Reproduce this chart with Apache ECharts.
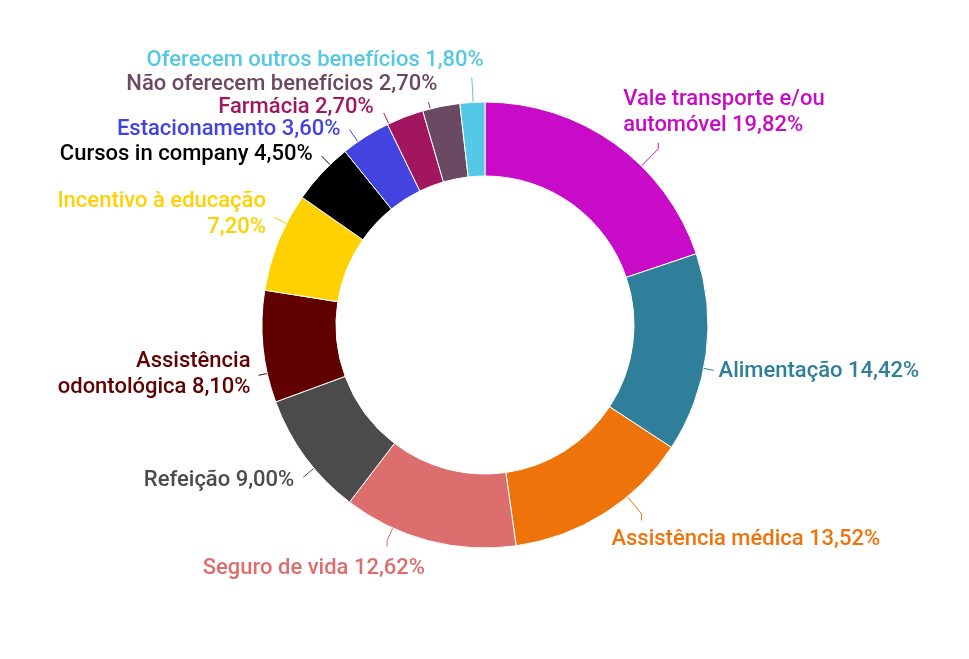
<!DOCTYPE html>
<html>
<head>
<meta charset="utf-8">
<script src="https://cdn.jsdelivr.net/npm/echarts@6/dist/echarts.min.js"></script>
<style>
html,body{margin:0;padding:0;background:#fff;}
#chart{width:969px;height:659px;}
</style>
</head>
<body>
<div id="chart"></div>
<script>
const categories = [
  'Vale transporte e/ou\nautomóvel',
  'Alimentação',
  'Assistência médica',
  'Seguro de vida',
  'Refeição',
  'Assistência\nodontológica',
  'Incentivo à educação\n',
  'Cursos in company',
  'Estacionamento',
  'Farmácia',
  'Não oferecem benefícios',
  'Oferecem outros benefícios'
];
const values = [19.82, 14.42, 13.52, 12.62, 9.00, 8.10, 7.20, 4.50, 3.60, 2.70, 2.70, 1.80];
const colors = ['#C70BC7', '#2F7E9A', '#EE730A', '#DD6E6E', '#4B4B4B', '#600000', '#FFD100', '#000000', '#4343E0', '#A2165F', '#6A4A62', '#55C8E6'];

// Label placement styling: f = where along the slice arc the leader starts (0..1),
// len = radial leader length, ex/ey = extra leader segment, dx/dy = text offset from leader end.
const labelPlacement = [
  { f: 0.624, len: 24, ex: 0, ey: -6, dx: -35, dy: -30, align: 'left' },
  { f: 0.575, len: 10, ex: 0, ey: 0, dx: 5, dy: 1, align: 'left' },
  { f: 0.35, len: 22, ex: 0, ey: 7, dx: -30, dy: 19, align: 'left' },
  { f: 0.714, len: 14, ex: 0, ey: 6, dx: 38, dy: 22, align: 'right' },
  { f: 0.39, len: 14, ex: 0, ey: 0, dx: -9, dy: 3, align: 'right' },
  { f: 0.262, len: 9, ex: 0, ey: 0, dx: -8, dy: -1, align: 'right' },
  { f: 0.697, len: 14, ex: 0, ey: 0, dx: -8, dy: -3, align: 'right' },
  { f: 0.682, len: 12, ex: 0, ey: 0, dx: -9, dy: -2, align: 'right' },
  { f: 0.32, len: 15, ex: 0, ey: 0, dx: -9, dy: 0, align: 'right' },
  { f: 0.04, len: 12, ex: 0, ey: 0, dx: -10, dy: -5, align: 'right' },
  { f: 0.203, len: 7, ex: 0, ey: 0, dx: 9, dy: -18, align: 'right' },
  { f: 0.53, len: 25, ex: 0, ey: 0, dx: 12, dy: -17, align: 'right' }
];

const fmt = v => v.toFixed(2).replace('.', ',') + '%';

const chart = echarts.init(document.getElementById('chart'));

function labelLayout(params) {
  const i = params.dataIndex;
  const pl = labelPlacement[i];
  const lay = chart.getModel().getSeriesByIndex(0).getData().getItemLayout(i);
  if (!lay || !pl) return {};
  const a = lay.startAngle + pl.f * (lay.endAngle - lay.startAngle);
  const c = Math.cos(a), s = Math.sin(a);
  const p0 = [lay.cx + lay.r * c, lay.cy + lay.r * s];
  const p1 = [lay.cx + (lay.r + pl.len) * c, lay.cy + (lay.r + pl.len) * s];
  const p2 = [p1[0] + pl.ex, p1[1] + pl.ey];
  return {
    x: p2[0] + pl.dx,
    y: p2[1] + pl.dy,
    align: pl.align,
    verticalAlign: 'middle',
    labelLinePoints: [p0, p1, p2]
  };
}

chart.setOption({
  animation: false,
  series: [{
    type: 'pie',
    center: [485, 325],
    radius: [149, 223],
    startAngle: 90,
    clockwise: true,
    avoidLabelOverlap: false,
    itemStyle: { borderColor: '#fff', borderWidth: 1 },
    label: {
      show: true,
      fontFamily: 'Roboto',
      fontSize: 22,
      fontWeight: 500,
      lineHeight: 26,
      formatter: p => {
        const name = categories[p.dataIndex];
        return name.endsWith('\n') ? name + fmt(values[p.dataIndex]) : name + ' ' + fmt(values[p.dataIndex]);
      }
    },
    labelLine: { show: true, length: 10, length2: 4, lineStyle: { width: 1 } },
    labelLayout: labelLayout,
    data: values.map((v, i) => ({
      value: v,
      name: categories[i],
      itemStyle: { color: colors[i] },
      label: { color: colors[i] },
      labelLine: { lineStyle: { color: colors[i] } }
    }))
  }]
});
</script>
</body>
</html>
